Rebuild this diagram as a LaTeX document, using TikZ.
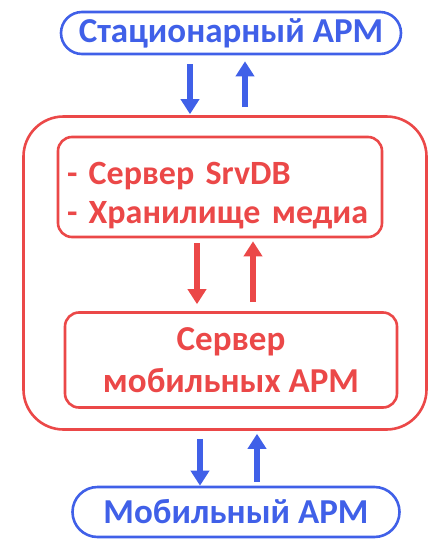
\documentclass[tikz,border=0pt]{standalone}
\usepackage{fontspec}
\setmainfont{Carlito}
\usetikzlibrary{calc,arrows.meta}
\definecolor{armblue}{RGB}{64,96,232}
\definecolor{srvred}{RGB}{235,72,72}

\begin{document}
\begin{tikzpicture}[x=1pt,y=-1pt,
  armbox/.style={draw=armblue,line width=2.6pt,text=armblue,inner sep=0pt,
    font=\bfseries\fontsize{35}{40}\selectfont},
  srvbox/.style={draw=srvred,line width=2.6pt,rounded corners=14pt,text=srvred,inner sep=0pt,
    font=\bfseries\fontsize{34}{39}\selectfont},
  blarrow/.style={armblue,line width=6pt,-{Triangle[width=18pt,length=15pt]}},
  rdarrow/.style={srvred,line width=6pt,-{Triangle[width=18pt,length=15pt]}}]
  \useasboundingbox (0,0) rectangle (440,544);
  \node[armbox,rounded corners=21pt,minimum width=340pt,minimum height=42pt] (stat) at (231,33) {Стационарный АРМ};
  \node[draw=srvred,line width=2.6pt,rounded corners=40pt,minimum width=403pt,minimum height=313pt] (outer) at (225,273) {};
  \node[srvbox,text width=306pt,inner xsep=9pt,minimum height=100pt,align=left] (db) at (220,187) {\rule{0pt}{39pt}- Сервер SrvDB\\- Хранилище медиа};
  \node[srvbox,minimum width=332pt,minimum height=95pt,align=center,font=\bfseries\fontsize{35}{42}\selectfont] (mob) at (231,360) {Сервер\\мобильных АРМ};
  \node[armbox,rounded corners=25pt,minimum width=327pt,minimum height=50pt] (mobarm) at (236,512) {Мобильный АРМ};
  \draw[blarrow] ($(stat.south -| 190,0)+(0,9)$) -- ($(outer.north -| 190,0)+(0,-1)$);
  \draw[blarrow] ($(outer.north -| 245,0)+(0,-8)$) -- ($(stat.south -| 245,0)+(0,6)$);
  \draw[rdarrow] ($(db.south -| 197,0)+(0,5)$) -- ($(mob.north -| 197,0)+(0,-7)$);
  \draw[rdarrow] ($(mob.north -| 253,0)+(0,-9)$) -- ($(db.south -| 253,0)+(0,3)$);
  \draw[blarrow] ($(outer.south -| 200,0)+(0,8)$) -- ($(mobarm.north -| 200,0)+(0,0)$);
  \draw[blarrow] ($(mobarm.north -| 257,0)+(0,-4)$) -- ($(outer.south -| 257,0)+(0,3)$);
\end{tikzpicture}
\end{document}
